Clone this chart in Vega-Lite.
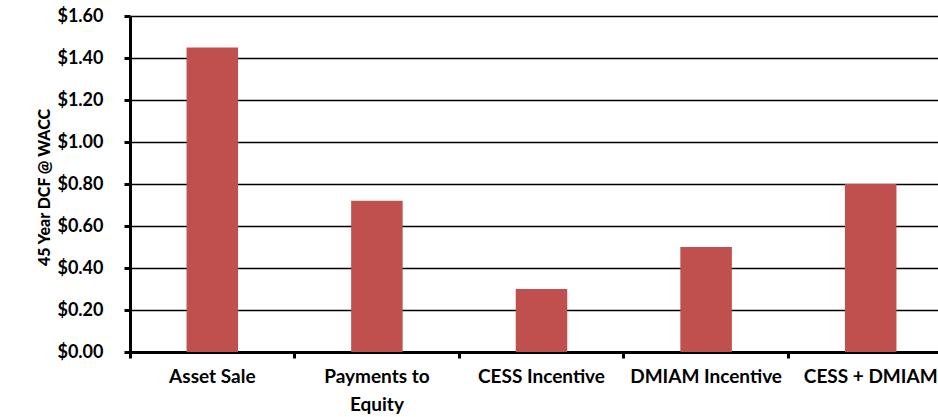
{
  "$schema": "https://vega.github.io/schema/vega-lite/v6.json",
  "autosize": "none",
  "width": 823,
  "height": 336,
  "padding": {"left": 130, "top": 16, "right": -15, "bottom": 65},
  "background": "white",
  "config": {"view": {"stroke": null}, "font": "Lato"},
  "data": {
    "values": [
      {"category": "Asset Sale", "value": 1.45},
      {"category": "Payments to Equity", "value": 0.72},
      {"category": "CESS Incentive", "value": 0.30},
      {"category": "DMIAM Incentive", "value": 0.50},
      {"category": "CESS + DMIAM", "value": 0.80}
    ]
  },
  "mark": {"type": "bar", "color": "#C0504D", "width": {"band": 0.313}},
  "encoding": {
    "x": {
      "field": "category",
      "type": "nominal",
      "sort": null,
      "scale": {"paddingInner": 0, "paddingOuter": 0},
      "axis": {
        "title": null,
        "labelAngle": 0,
        "labelFont": "Lato",
        "labelFontWeight": "bold",
        "labelFontSize": 19,
        "labelColor": "#000000",
        "labelPadding": 9,
        "labelLineHeight": 28,
        "labelExpr": "datum.label == 'Payments to Equity' ? ['Payments to', 'Equity'] : datum.label",
        "bandPosition": 0,
        "domainColor": "#000000",
        "domainWidth": 3,
        "tickColor": "#000000",
        "tickWidth": 3,
        "tickSize": 6,
        "grid": false
      }
    },
    "y": {
      "field": "value",
      "type": "quantitative",
      "scale": {"domain": [0, 1.6], "nice": false},
      "axis": {
        "title": "45 Year DCF @ WACC",
        "titleFont": "Lato",
        "titleFontWeight": 900,
        "titleFontSize": 16,
        "titleColor": "#000000",
        "titleX": -86,
        "titleY": 171,
        "titleAlign": "center",
        "titleBaseline": "middle",
        "titleAngle": -90,
        "values": [0, 0.2, 0.4, 0.6, 0.8, 1.0, 1.2, 1.4, 1.6],
        "format": "$.2f",
        "labelFont": "Lato",
        "labelFontWeight": "bold",
        "labelFontSize": 18,
        "labelColor": "#000000",
        "labelPadding": 21,
        "domainColor": "#000000",
        "domainWidth": 3,
        "tickColor": "#000000",
        "tickWidth": 3,
        "tickSize": 6,
        "grid": true,
        "gridColor": "#000000",
        "gridWidth": 1.4
      }
    }
  }
}
